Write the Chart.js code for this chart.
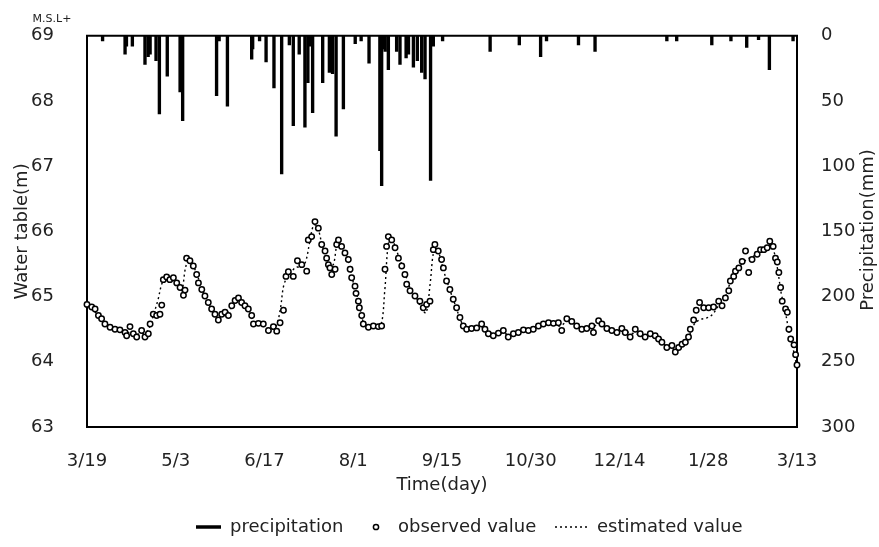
<!DOCTYPE html>
<html>
<head>
<meta charset="utf-8">
<script src="https://cdn.jsdelivr.net/npm/chart.js@4.4.1/dist/chart.umd.min.js"></script>
<style>
  html, body { margin: 0; padding: 0; background: #fff; }
  #wrap { width: 879px; height: 547px; }
</style>
</head>
<body>
<div id="wrap"><canvas id="chart" width="879" height="547"></canvas></div>
<script>
// x = days since 3/19
const xTickLabels = ["3/19", "5/3", "6/17", "8/1", "9/15", "10/30", "12/14", "1/28", "3/13"];

const obsDays = [0, 2.4, 4.1, 5.8, 7.4, 9.1, 11.7, 14.2, 16.7, 19.3, 20.1, 21.8, 23.5, 25.2, 27.7, 29.4, 31.1, 32, 33.6, 35.3, 37, 37.9, 38.7, 40.4, 42, 43.8, 45.5, 47.2, 48.9, 49.7, 50.5, 52.2, 53.9, 55.6, 56.5, 58.2, 59.8, 61.5, 63.2, 64.9, 66.6, 68.3, 70, 71.7, 73.4, 75.1, 76.8, 78.4, 80.1, 81.8, 83.5, 84.4, 86.9, 89.4, 92, 94.5, 96.2, 97.9, 99.6, 100.9, 102.1, 104.6, 106.7, 108.9, 111.4, 112.2, 113.9, 115.6, 117.3, 119, 120.7, 121.5, 122.4, 123.2, 124.1, 125.8, 126.6, 127.5, 129.1, 130.8, 132.5, 133.4, 134.2, 135.9, 136.4, 137.6, 138.1, 139.3, 140.1, 142.7, 145.2, 147.7, 149.4, 151.1, 151.9, 152.8, 154.5, 156.2, 157.9, 159.6, 161.2, 162.1, 163.8, 166.3, 168.8, 170.5, 172.2, 173.9, 175.6, 176.4, 178.1, 179.8, 180.7, 182.3, 184, 185.7, 187.4, 189.1, 190.8, 192.5, 195, 197.6, 200.1, 201.8, 203.5, 206, 208.6, 211.1, 213.6, 216.2, 218.7, 221.3, 223.8, 226.3, 228.9, 231.4, 234, 236.5, 239, 240.7, 243.3, 245.8, 248.3, 250.9, 253.4, 256, 256.8, 259.4, 261.1, 263.6, 266.1, 268.7, 271.2, 272.9, 275.4, 278, 280.5, 283, 285.6, 288.1, 289.8, 291.5, 294, 296.6, 298.3, 300, 301.7, 303.4, 305, 305.9, 307.6, 308.9, 310.6, 312.7, 315.2, 317.7, 320.3, 322, 323.7, 325.4, 326.2, 327.9, 328.8, 330.5, 332.2, 333.9, 335.5, 337.2, 339.8, 341.5, 343.2, 344.9, 346.2, 347.9, 349.1, 350, 350.8, 351.7, 352.5, 354.2, 355.1, 355.9, 356.8, 358.5, 359.3, 360];
const obsValues = [64.88, 64.84, 64.81, 64.71, 64.66, 64.58, 64.53, 64.50, 64.49, 64.45, 64.40, 64.54, 64.43, 64.38, 64.48, 64.38, 64.43, 64.58, 64.73, 64.71, 64.73, 64.87, 65.26, 65.30, 65.26, 65.29, 65.21, 65.14, 65.02, 65.10, 65.59, 65.55, 65.47, 65.34, 65.21, 65.11, 65.01, 64.91, 64.81, 64.73, 64.64, 64.73, 64.76, 64.71, 64.86, 64.94, 64.98, 64.91, 64.86, 64.81, 64.71, 64.58, 64.59, 64.58, 64.48, 64.54, 64.47, 64.60, 64.79, 65.31, 65.38, 65.31, 65.55, 65.49, 65.39, 65.87, 65.92, 66.15, 66.05, 65.80, 65.70, 65.59, 65.49, 65.44, 65.34, 65.42, 65.80, 65.87, 65.77, 65.67, 65.57, 65.42, 65.29, 65.16, 65.05, 64.93, 64.83, 64.71, 64.58, 64.53, 64.55, 64.54, 64.55, 65.42, 65.77, 65.92, 65.87, 65.75, 65.59, 65.47, 65.34, 65.19, 65.09, 65.01, 64.93, 64.83, 64.88, 64.93, 65.72, 65.80, 65.70, 65.57, 65.44, 65.24, 65.11, 64.96, 64.83, 64.68, 64.55, 64.50, 64.51, 64.52, 64.58, 64.50, 64.43, 64.40, 64.44, 64.48, 64.38, 64.43, 64.45, 64.49, 64.48, 64.50, 64.55, 64.58, 64.60, 64.59, 64.60, 64.48, 64.66, 64.62, 64.55, 64.50, 64.51, 64.55, 64.45, 64.63, 64.58, 64.51, 64.48, 64.45, 64.51, 64.45, 64.38, 64.50, 64.43, 64.38, 64.43, 64.40, 64.35, 64.30, 64.22, 64.25, 64.15, 64.22, 64.27, 64.30, 64.38, 64.50, 64.64, 64.79, 64.91, 64.83, 64.83, 64.84, 64.93, 64.86, 64.98, 65.09, 65.24, 65.31, 65.39, 65.44, 65.54, 65.70, 65.37, 65.57, 65.65, 65.72, 65.72, 65.75, 65.85, 65.77, 65.59, 65.53, 65.37, 65.14, 64.93, 64.81, 64.76, 64.50, 64.35, 64.26, 64.11, 63.95];

const estDays = [0, 3, 6, 9, 12, 15, 18, 21, 24, 27, 30, 32, 34, 36, 38, 40, 43, 46, 48, 50, 52, 55, 58, 61, 64, 67, 70, 73, 76, 79, 82, 85, 88, 91, 94, 96, 98, 100, 103, 106, 109, 111, 113, 115, 117, 119, 121, 123, 125, 127, 129, 132, 135, 138, 140, 143, 146, 149, 151, 153, 155, 158, 161, 164, 167, 170, 172, 174, 176, 178, 181, 184, 187, 190, 193, 197, 201, 205, 210, 215, 220, 225, 230, 235, 240, 244, 248, 252, 256, 260, 264, 268, 272, 276, 280, 284, 288, 292, 296, 299, 302, 305, 308, 311, 314, 317, 320, 323, 326, 329, 332, 335, 338, 341, 344, 346, 348, 350, 352, 354, 356, 358, 360];
const estValues = [64.87, 64.80, 64.70, 64.60, 64.53, 64.50, 64.47, 64.45, 64.42, 64.43, 64.45, 64.55, 64.75, 64.95, 65.20, 65.28, 65.27, 65.18, 65.08, 65.45, 65.58, 65.40, 65.15, 64.93, 64.78, 64.68, 64.72, 64.82, 64.95, 64.90, 64.78, 64.60, 64.57, 64.52, 64.50, 64.55, 64.80, 65.20, 65.35, 65.45, 65.45, 65.55, 65.85, 66.10, 66.05, 65.82, 65.62, 65.45, 65.50, 65.82, 65.78, 65.60, 65.22, 64.90, 64.62, 64.53, 64.53, 64.55, 65.10, 65.85, 65.85, 65.62, 65.38, 65.12, 64.98, 64.80, 64.75, 65.20, 65.72, 65.70, 65.38, 65.10, 64.85, 64.60, 64.50, 64.50, 64.52, 64.44, 64.44, 64.42, 64.46, 64.48, 64.55, 64.58, 64.55, 64.63, 64.56, 64.52, 64.53, 64.58, 64.50, 64.47, 64.47, 64.44, 64.42, 64.41, 64.38, 64.28, 64.22, 64.18, 64.25, 64.38, 64.58, 64.65, 64.67, 64.72, 64.85, 64.95, 65.20, 65.38, 65.50, 65.58, 65.62, 65.70, 65.75, 65.80, 65.72, 65.45, 65.05, 64.78, 64.45, 64.20, 63.92];

const precipDays = [7.9, 19.3, 20, 23, 29.4, 31, 32, 35, 36.7, 40.7, 47.2, 48.5, 65.7, 67, 71.2, 83.5, 84, 87.5, 90.8, 94.8, 98.7, 102.6, 104.6, 107.6, 110.5, 112, 113, 114.4, 119.5, 122.9, 124.5, 126.3, 130, 136, 139, 143, 148.5, 149.4, 150.3, 151.2, 152.8, 157, 158.7, 161.8, 163, 165.5, 167.5, 169.7, 171.4, 174.2, 175.6, 180.3, 204.4, 219.2, 230, 233, 249.2, 257.6, 294, 299, 316.8, 326.5, 334.5, 340.5, 346, 358];
const precipValues = [4, 14, 8, 8, 22, 16, 14, 19, 60, 31, 43, 65, 46, 4, 54, 18, 10, 4, 20, 40, 106, 7, 69, 14, 70, 36, 8, 59, 36, 28, 29, 77, 56, 6, 4, 21, 88, 115, 10, 12, 26, 12, 22, 17, 14, 24, 19, 28, 33, 111, 8, 4, 12, 7, 16, 4, 7, 12, 4, 4, 7, 4, 9, 3, 26, 4];

const FONT = '"DejaVu Sans", sans-serif';
const INK = '#222';

function pairs(xs, ys) {
  return xs.map((x, i) => ({ x: x, y: ys[i] }));
}

// extra bits: top frame line, M.S.L+ note, right title, legend row
const extras = {
  id: 'extras',
  afterDraw(chart) {
    const ctx = chart.ctx;
    const a = chart.chartArea;
    ctx.save();
    ctx.strokeStyle = '#000';
    ctx.lineWidth = 2;
    ctx.beginPath();
    ctx.moveTo(a.left - 1, a.top);
    ctx.lineTo(a.right + 1, a.top);
    ctx.stroke();

    ctx.fillStyle = INK;
    ctx.font = '11px ' + FONT;
    ctx.textAlign = 'center';
    ctx.textBaseline = 'middle';
    ctx.fillText('M.S.L+', 52, 19);

    ctx.font = '18px ' + FONT;
    ctx.save();
    ctx.translate(868, 230);
    ctx.rotate(-Math.PI / 2);
    ctx.fillText('Precipitation(mm)', 0, 0);
    ctx.restore();

    // legend
    const y = 527;
    ctx.textAlign = 'left';
    ctx.lineWidth = 3.5;
    ctx.beginPath();
    ctx.moveTo(196, y);
    ctx.lineTo(221, y);
    ctx.stroke();
    ctx.fillText('precipitation', 230, y);

    ctx.lineWidth = 1.5;
    ctx.beginPath();
    ctx.arc(376, y, 2.6, 0, Math.PI * 2);
    ctx.stroke();
    ctx.fillText('observed value', 398, y);

    ctx.lineWidth = 1.3;
    ctx.setLineDash([2, 3]);
    ctx.beginPath();
    ctx.moveTo(555, y);
    ctx.lineTo(588, y);
    ctx.stroke();
    ctx.setLineDash([]);
    ctx.fillText('estimated value', 597, y);
    ctx.restore();
  }
};

new Chart(document.getElementById('chart'), {
  type: 'scatter',
  data: {
    datasets: [
      {
        label: 'observed value',
        type: 'scatter',
        data: pairs(obsDays, obsValues),
        yAxisID: 'y',
        pointStyle: 'circle',
        pointRadius: 2.7,
        pointBorderWidth: 1.5,
        pointBorderColor: '#000',
        pointBackgroundColor: '#fff',
        showLine: false,
        clip: false,
        order: 0
      },
      {
        label: 'estimated value',
        type: 'line',
        data: pairs(estDays, estValues),
        yAxisID: 'y',
        borderColor: '#000',
        borderWidth: 1.4,
        borderDash: [2, 3],
        pointRadius: 0,
        tension: 0.35,
        fill: false,
        order: 1
      },
      {
        label: 'precipitation',
        type: 'bar',
        data: pairs(precipDays, precipValues),
        yAxisID: 'y2',
        backgroundColor: '#000',
        barThickness: 2.7,
        grouped: false,
        order: 2
      }
    ]
  },
  options: {
    responsive: false,
    animation: false,
    devicePixelRatio: 1,
    layout: { padding: { top: 33, left: 0, right: 0, bottom: 0 } },
    plugins: {
      legend: { display: false },
      tooltip: { enabled: false }
    },
    scales: {
      x: {
        type: 'linear',
        min: 0,
        max: 360,
        offset: false,
        grid: { display: false, offset: false },
        border: { display: true, color: '#000', width: 2 },
        ticks: {
          stepSize: 45,
          autoSkip: false,
          maxRotation: 0,
          padding: 16,
          color: INK,
          font: { family: FONT, size: 18 },
          callback: (v, i) => xTickLabels[i]
        },
        title: {
          display: true,
          text: 'Time(day)',
          color: INK,
          font: { family: FONT, size: 18 },
          padding: { top: 0, bottom: 51 }
        },
        afterFit: s => { s.height = 547 - 427; }
      },
      y: {
        position: 'left',
        min: 63,
        max: 69,
        grid: { display: false },
        border: { display: true, color: '#000', width: 2 },
        ticks: {
          stepSize: 1,
          padding: 25,
          color: INK,
          font: { family: FONT, size: 18 }
        },
        title: {
          display: true,
          text: 'Water table(m)',
          color: INK,
          font: { family: FONT, size: 18 },
          padding: { top: 12, bottom: 0 }
        },
        afterFit: s => { s.width = 87; }
      },
      y2: {
        position: 'right',
        min: 0,
        max: 300,
        reverse: true,
        grid: { display: false },
        border: { display: true, color: '#000', width: 2 },
        ticks: {
          stepSize: 50,
          padding: 16,
          color: INK,
          font: { family: FONT, size: 18 }
        },
        afterFit: s => { s.width = 82; }
      }
    }
  },
  plugins: [extras]
});
</script>
</body>
</html>
